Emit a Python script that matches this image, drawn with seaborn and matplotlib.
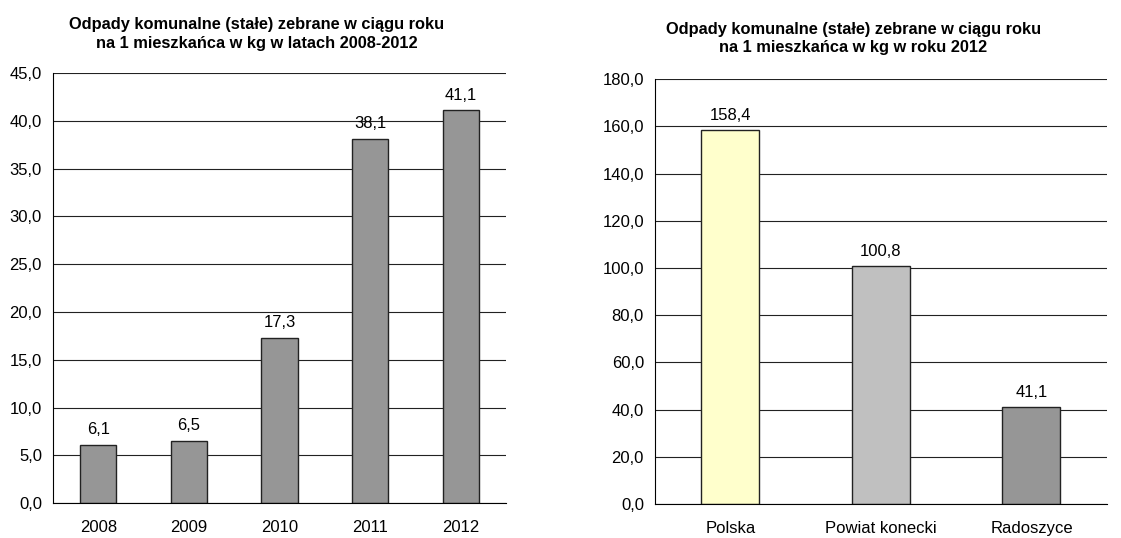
import numpy as np
import pandas as pd
import matplotlib
matplotlib.use("Agg")
import matplotlib.pyplot as plt
import seaborn as sns

years = ["2008", "2009", "2010", "2011", "2012"]
years_values = [6.1, 6.5, 17.3, 38.1, 41.1]

areas = ["Polska", "Powiat konecki", "Radoszyce"]
areas_values = [158.4, 100.8, 41.1]
areas_colors = ["#FFFFCC", "#C0C0C0", "#969696"]

title_left = "Odpady komunalne (stałe) zebrane w ciągu roku\nna 1 mieszkańca w kg w latach 2008-2012"
title_right = "Odpady komunalne (stałe) zebrane w ciągu roku\nna 1 mieszkańca w kg w roku 2012"


def fmt(v):
    return f"{v:.1f}".replace(".", ",")


def style_axis(ax, n, ymax, ystep):
    ax.set_xlim(-0.5, n - 0.5)
    ax.set_ylim(0, ymax)
    yt = np.arange(0, ymax + ystep / 2, ystep)
    ax.set_yticks(yt)
    ax.set_yticklabels([fmt(t) for t in yt])
    ax.set_xticks(range(n))
    ax.set_xticks(np.arange(-0.5, n, 1.0), minor=True)
    ax.tick_params(axis="x", which="major", length=0, pad=12, labelsize=12)
    ax.tick_params(axis="x", which="minor", length=5, width=0.8, color="black")
    ax.tick_params(axis="y", length=5, width=0.8, color="black", labelsize=12, pad=3)
    for sp in ["top", "right"]:
        ax.spines[sp].set_visible(False)
    for sp in ["left", "bottom"]:
        ax.spines[sp].set_color("black")
        ax.spines[sp].set_linewidth(0.8)
    ax.grid(axis="y", color="#222222", linewidth=0.8)
    ax.grid(axis="x", visible=False)
    ax.set_axisbelow(True)
    ax.set_xlabel("")
    ax.set_ylabel("")


def main():
    sns.set_style("white")
    plt.rcParams["font.family"] = ["Liberation Sans", "DejaVu Sans"]
    plt.rcParams["text.color"] = "black"
    plt.rcParams["xtick.labelcolor"] = "black"
    plt.rcParams["ytick.labelcolor"] = "black"

    fig = plt.figure(figsize=(11.21, 5.38), dpi=100)
    ax1 = fig.add_axes([0.0473, 0.065, 0.404, 0.799])
    ax2 = fig.add_axes([0.5843, 0.063, 0.403, 0.790])

    df1 = pd.DataFrame({"rok": years, "kg": years_values})
    sns.barplot(data=df1, x="rok", y="kg", color="#969696", width=0.4,
                edgecolor="#222222", linewidth=1.0, saturation=1, ax=ax1)
    style_axis(ax1, len(years), 45, 5)
    for i, v in enumerate(years_values):
        ax1.text(i, v + 0.8, fmt(v), ha="center", va="bottom", fontsize=12)

    df2 = pd.DataFrame({"obszar": areas, "kg": areas_values})
    sns.barplot(data=df2, x="obszar", y="kg", hue="obszar", palette=areas_colors,
                width=0.385, edgecolor="#222222", linewidth=1.0, saturation=1,
                legend=False, ax=ax2)
    style_axis(ax2, len(areas), 180, 20)
    for i, v in enumerate(areas_values):
        ax2.text(i, v + 3.0, fmt(v), ha="center", va="bottom", fontsize=12)

    fig.text(0.229, 0.968, title_left, ha="center", va="top",
             fontsize=11.8, fontweight="bold", linespacing=1.3)
    fig.text(0.761, 0.96, title_right, ha="center", va="top",
             fontsize=11.8, fontweight="bold", linespacing=1.3)

    fig.savefig("out.png", dpi=100)


if __name__ == "__main__":
    main()
